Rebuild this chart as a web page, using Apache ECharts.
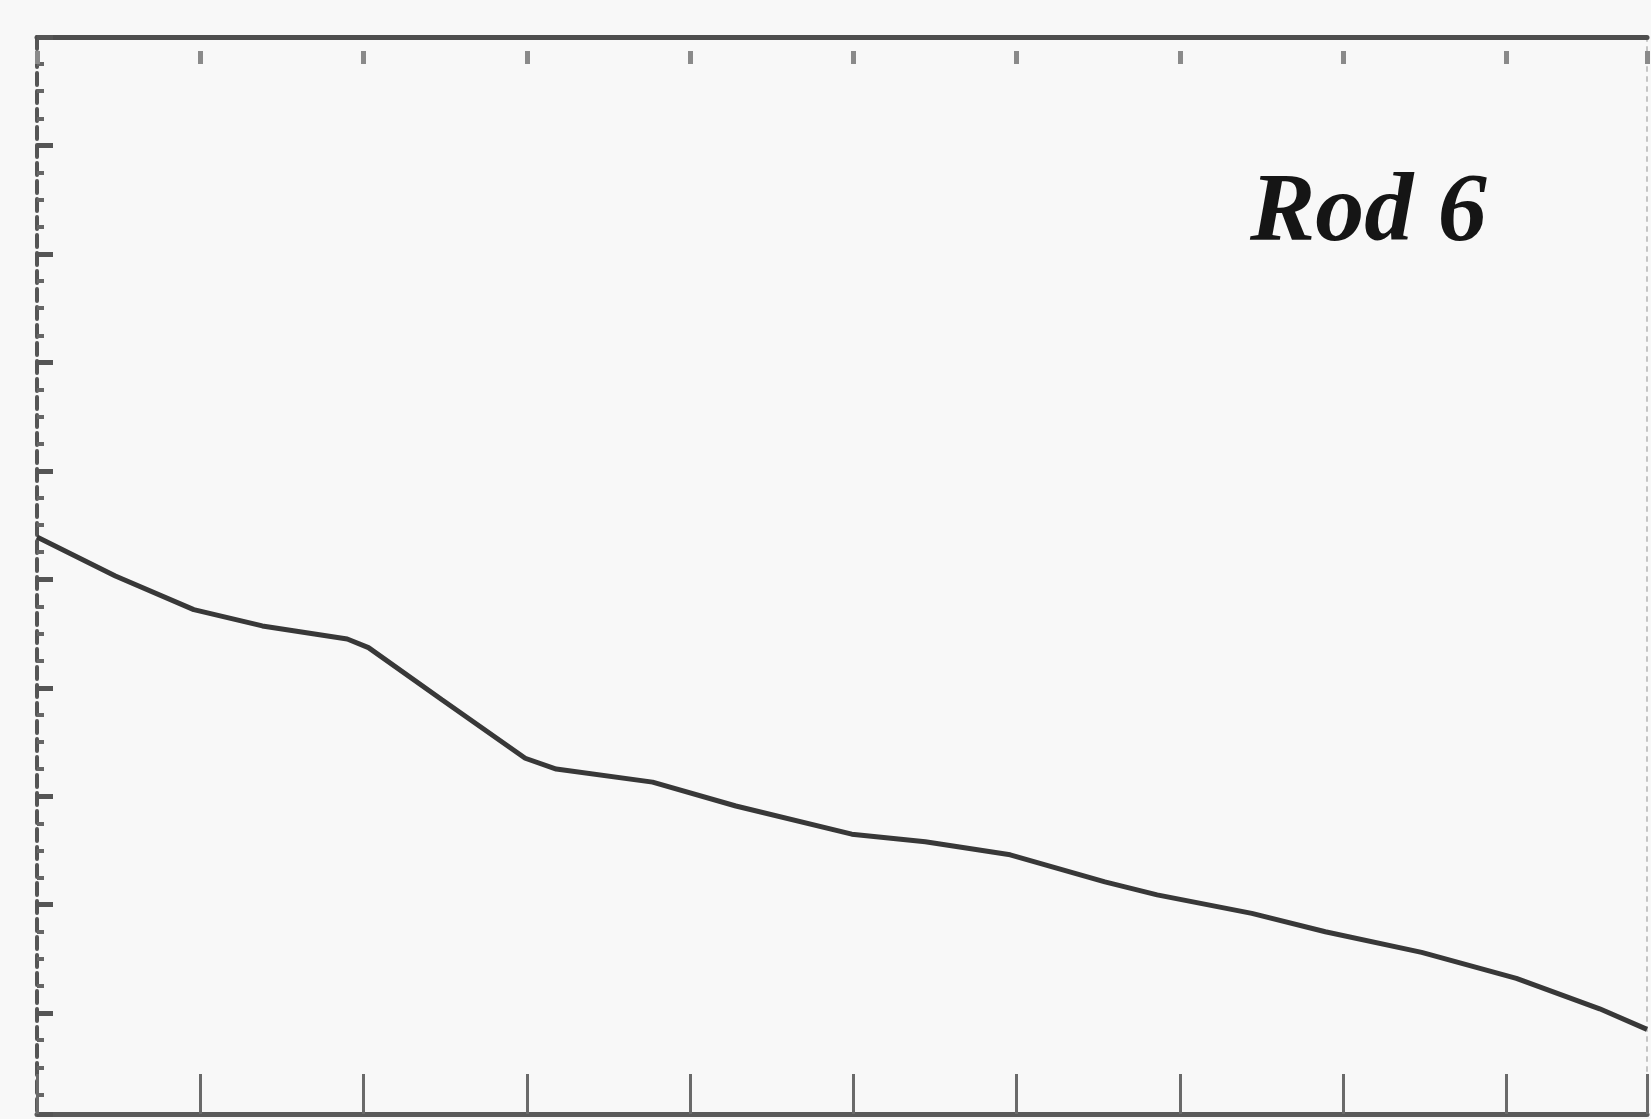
<!DOCTYPE html>
<html>
<head>
<meta charset="utf-8">
<script src="https://cdn.jsdelivr.net/npm/echarts@6/dist/echarts.min.js"></script>
<style>
  html, body { margin: 0; padding: 0; background: #f8f8f8; }
  #chart { width: 1651px; height: 1119px; }
</style>
</head>
<body>
<div id="chart"></div>
<script>
// Data (arbitrary units: x = tick divisions, y = divisions from top)
const xValues = [0, 0.48, 0.96, 1.38, 1.90, 2.03, 2.48, 2.99, 3.18, 3.77, 4.28, 4.99, 5.44, 5.96, 6.54, 6.86, 7.44, 7.89, 8.48, 9.06, 9.57, 9.86];
const yValues = [4.61, 4.97, 5.28, 5.43, 5.55, 5.63, 6.11, 6.65, 6.75, 6.87, 7.09, 7.35, 7.42, 7.54, 7.79, 7.91, 8.08, 8.25, 8.44, 8.68, 8.96, 9.15];
const labelText = 'Rod 6';
const xMin = 0, xMax = 9.86, yMin = 0, yMax = 9.93;

const points = xValues.map((x, i) => [x, yValues[i]]);

const chart = echarts.init(document.getElementById('chart'), null, { renderer: 'canvas' });
chart.setOption({
  backgroundColor: '#f8f8f8',
  animation: false,
  grid: { left: 37, right: 4, top: 37, bottom: 5, containLabel: false },
  xAxis: [
    {
      type: 'value', position: 'bottom', min: xMin, max: xMax, interval: 1,
      axisLine: { show: true, onZero: false, lineStyle: { color: '#5a5a5a', width: 5 } },
      axisTick: { show: true, inside: true, length: 40, lineStyle: { color: '#6a6a6a', width: 3 } },
      axisLabel: { show: false }, splitLine: { show: false }
    },
    {
      type: 'value', position: 'top', min: xMin, max: xMax, interval: 1,
      axisLine: { show: true, onZero: false, lineStyle: { color: '#4e4e4e', width: 5 } },
      axisTick: { show: false }, axisLabel: { show: false }, splitLine: { show: false }
    },
    {
      type: 'value', position: 'top', offset: -14, min: xMin, max: xMax, interval: 1,
      axisLine: { show: false, onZero: false },
      axisTick: { show: true, inside: true, length: 13, lineStyle: { color: '#8a8a8a', width: 5 } },
      axisLabel: { show: false }, splitLine: { show: false }
    }
  ],
  yAxis: [
    {
      type: 'value', position: 'left', inverse: true, min: yMin, max: yMax, interval: 1,
      axisLine: { show: true, onZero: false, lineStyle: { color: '#555', width: 4, type: [12, 6] } },
      axisTick: { show: true, inside: true, length: 16, lineStyle: { color: '#555', width: 5 } },
      minorTick: { show: true, splitNumber: 4, length: 7, lineStyle: { color: '#666', width: 4 } },
      axisLabel: { show: false }, splitLine: { show: false }
    },
    {
      type: 'value', position: 'right', inverse: true, min: yMin, max: yMax, interval: 1,
      axisLine: { show: true, onZero: false, lineStyle: { color: '#c4c4c4', width: 2, type: [4, 6] } },
      axisTick: { show: false }, axisLabel: { show: false }, splitLine: { show: false }
    }
  ],
  series: [
    {
      type: 'line', xAxisIndex: 0, yAxisIndex: 0,
      data: points, showSymbol: false, symbol: 'none', smooth: false, clip: false,
      lineStyle: { color: '#383838', width: 5 }
    }
  ],
  graphic: [
    {
      type: 'text', left: 1250, top: 166, silent: true,
      style: {
        text: labelText,
        font: 'italic bold 98px "Liberation Serif", "DejaVu Serif", serif',
        fill: '#151515'
      }
    }
  ]
});
</script>
</body>
</html>
